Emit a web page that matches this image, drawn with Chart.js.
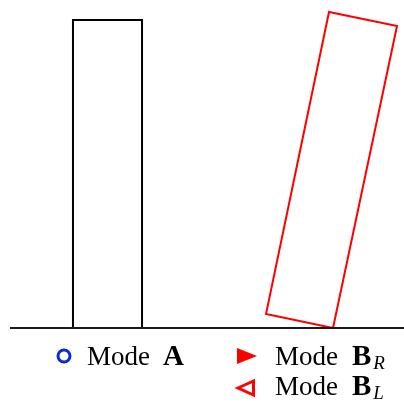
<!DOCTYPE html>
<html>
<head>
<meta charset="utf-8">
<script src="https://cdn.jsdelivr.net/npm/chart.js@4"></script>
<style>
  body { margin: 0; background: #fff; }
</style>
</head>
<body>
<canvas id="modesChart" width="404" height="403"></canvas>
<script>
// outline of the upright bar (mode A) and of the tilted bar (mode B), in axis units
const barAx = [0.911, 0.911, 1.910, 1.910, 0.911];
const barAy = [0, 4.46, 4.46, 0, 0];
const barBx = [4.673, 3.704, 4.615, 5.599, 4.673];
const barBy = [0, 0.203, 4.576, 4.374, 0];
const groundX = [0, 5.7];
const groundY = [0, 0];

// legend entries
const modeNames = ['Mode', 'Mode', 'Mode'];
const modeBold = ['A', 'B', 'B'];
const modeSubs = ['', 'R', 'L'];

function toPoints(xs, ys) {
    return xs.map((x, i) => ({ x: x, y: ys[i] }));
}

const legendPlugin = {
    id: 'modeLegend',
    afterDraw(chart) {
        const ctx = chart.ctx;
        const rows = [
            { tx: 87, bx: 163, ty: 365 },
            { tx: 275, bx: 352, ty: 365 },
            { tx: 275, bx: 352, ty: 395 }
        ];
        ctx.save();
        // markers
        ctx.lineJoin = 'miter';
        ctx.beginPath();
        ctx.arc(64, 356, 6, 0, Math.PI * 2);
        ctx.strokeStyle = '#0a2ad6';
        ctx.lineWidth = 3;
        ctx.stroke();

        ctx.beginPath();
        ctx.moveTo(237, 348);
        ctx.lineTo(257, 356);
        ctx.lineTo(237, 364);
        ctx.closePath();
        ctx.fillStyle = '#ff0000';
        ctx.fill();

        ctx.beginPath();
        ctx.moveTo(238, 388);
        ctx.lineTo(253.5, 381);
        ctx.lineTo(253.5, 395);
        ctx.closePath();
        ctx.strokeStyle = '#ff0000';
        ctx.lineWidth = 3;
        ctx.stroke();

        // labels
        ctx.fillStyle = '#000';
        ctx.textBaseline = 'alphabetic';
        ctx.textAlign = 'left';
        rows.forEach((r, i) => {
            ctx.font = '27px "Liberation Serif"';
            ctx.fillText(modeNames[i], r.tx, r.ty);
            ctx.font = 'bold 29px "Liberation Serif"';
            ctx.fillText(modeBold[i], r.bx, r.ty);
            const x = r.bx + ctx.measureText(modeBold[i]).width + 2;
            if (modeSubs[i]) {
                ctx.font = 'italic 19px "Liberation Serif"';
                ctx.fillText(modeSubs[i], x, r.ty + 4);
            }
        });
        ctx.restore();
    }
};

const ctx = document.getElementById('modesChart').getContext('2d');
new Chart(ctx, {
    type: 'line',
    data: {
        datasets: [
            {
                label: 'ground',
                data: toPoints(groundX, groundY),
                borderColor: '#1a1a1a',
                borderWidth: 2,
                pointRadius: 0,
                fill: false
            },
            {
                label: 'Mode A',
                data: toPoints(barAx, barAy),
                borderColor: '#000000',
                borderWidth: 2,
                pointRadius: 0,
                fill: false
            },
            {
                label: 'Mode B',
                data: toPoints(barBx, barBy),
                borderColor: '#ff0000',
                borderWidth: 2,
                pointRadius: 0,
                fill: false
            }
        ]
    },
    options: {
        responsive: false,
        animation: false,
        events: [],
        layout: { padding: { left: 10, right: 0, top: 0, bottom: 75 } },
        elements: { line: { tension: 0, borderJoinStyle: 'miter' } },
        datasets: { line: { clip: false } },
        plugins: {
            legend: { display: false },
            tooltip: { enabled: false }
        },
        scales: {
            x: { type: 'linear', min: 0, max: 5.7, display: false },
            y: { type: 'linear', min: 0, max: 4.75, display: false }
        }
    },
    plugins: [legendPlugin]
});
</script>
</body>
</html>
